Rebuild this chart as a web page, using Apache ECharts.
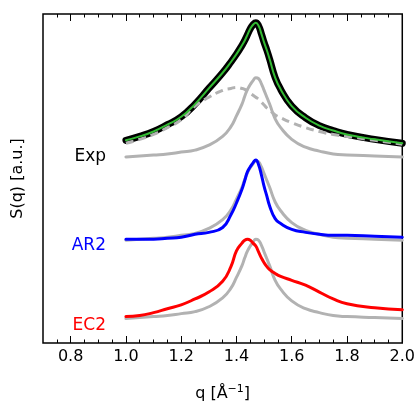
<!DOCTYPE html>
<html>
<head>
<meta charset="utf-8">
<script src="https://cdn.jsdelivr.net/npm/echarts@6/dist/echarts.min.js"></script>
<style>
  html, body { margin: 0; padding: 0; background: #fff; }
  #chart { width: 418px; height: 407px; }
</style>
</head>
<body>
<div id="chart"></div>
<script>
// q grid (1/Å) the curves were read at
var q = [1.00, 1.05, 1.10, 1.15, 1.20, 1.25, 1.30, 1.35, 1.38, 1.40, 1.42, 1.43, 1.44, 1.45,
         1.46, 1.47, 1.48, 1.49, 1.50, 1.51, 1.52, 1.54, 1.56, 1.60, 1.65, 1.70, 1.75, 1.80,
         1.90, 2.00];

// S(q), arbitrary units (curves are offset vertically)
var expTotal = [207, 211, 216, 223, 231, 244, 260, 276, 287, 295, 304, 309, 315, 321,
                325, 327, 324, 316, 307, 299, 290, 271, 259, 242, 230, 222, 217, 213,
                208, 204];
var expBroad = [204, 208, 213, 220, 228, 242, 251, 258, 260, 261, 260, 259, 257, 255,
                253, 251, 249, 246, 243, 240, 238, 233, 230, 225, 220, 216, 213, 211,
                207, 203];
var expPeak  = [190, 191, 192, 193, 195, 197, 202, 211, 221, 232, 244, 252, 259, 264,
                268, 271, 270, 265, 258, 251, 244, 229, 220, 208, 200, 196, 193, 192,
                191, 190];
var ar2Sim   = [106, 106, 106, 107, 108, 111, 113, 118, 131, 143, 157, 166, 175, 180,
                184, 187, 182, 172, 160, 150, 140, 127, 122, 116, 113, 111, 110, 110,
                109, 108];
var ar2Peak  = [105, 106, 107, 108, 110, 112, 117, 126, 136, 147, 159, 167, 174, 179,
                183, 186, 185, 180, 173, 166, 159, 144, 135, 123, 115, 111, 108, 107,
                106, 105];
var ec2Sim   = [27, 28, 31, 35, 39, 45, 52, 63, 78, 94, 102, 105, 106, 105,
                102, 99, 93, 87, 82, 78, 75, 71, 68, 64, 59, 52, 45, 40,
                36, 34];
var ec2Peak  = [25, 26, 27, 28, 30, 32, 37, 46, 56, 67, 79, 87, 94, 99,
                103, 106, 105, 100, 93, 86, 79, 64, 55, 43, 35, 31, 28, 27,
                26, 25];

var majorTicks = [0.8, 1.0, 1.2, 1.4, 1.6, 1.8, 2.0];
var minorTicks = [0.75, 0.85, 0.9, 0.95, 1.05, 1.1, 1.15, 1.25, 1.3, 1.35, 1.45, 1.5, 1.55,
                  1.65, 1.7, 1.75, 1.85, 1.9, 1.95];

var FONT = 'DejaVu Sans';
var GRAY = '#b2b2b2';

function pairs(ys) {
    return q.map(function (x, i) { return [x, ys[i]]; });
}

function xAx(pos, ticks, len, labels) {
    return {
        type: 'value', position: pos, min: 0.7, max: 2.0,
        axisLine: { show: false },
        splitLine: { show: false },
        axisTick: { show: true, inside: true, length: len, customValues: ticks,
                    lineStyle: { color: '#000', width: 1 } },
        axisLabel: labels ? {
            show: true, customValues: ticks, margin: 6,
            fontFamily: FONT, fontSize: 16, color: '#000',
            formatter: function (v) { return v.toFixed(1); }
        } : { show: false }
    };
}

function line(data, color, width, extra) {
    var s = {
        type: 'line', data: pairs(data), smooth: 0.5, symbol: 'none',
        silent: true, animation: false,
        lineStyle: { color: color, width: width, cap: 'round', join: 'round' }
    };
    if (extra) Object.assign(s.lineStyle, extra);
    return s;
}

var chart = echarts.init(document.getElementById('chart'));

var xAxes = [xAx('bottom', majorTicks, 7, true), xAx('bottom', minorTicks, 3.5, false),
             xAx('top', majorTicks, 7, false), xAx('top', minorTicks, 3.5, false)];
xAxes[0].name = 'q [Å{sup|−1}]';
xAxes[0].nameLocation = 'middle';
xAxes[0].nameGap = 41;
xAxes[0].nameTextStyle = {
    fontFamily: FONT, fontSize: 16, color: '#000',
    rich: { sup: { fontFamily: FONT, fontSize: 11, color: '#000', padding: [0, 0, 9, 0] } }
};

chart.setOption({
    animation: false,
    grid: { left: 43, top: 14, right: 15, bottom: 57, show: true,
            borderColor: '#000', borderWidth: 1.5, backgroundColor: 'transparent' },
    xAxis: xAxes,
    yAxis: {
        type: 'value', min: 0, max: 336,
        axisLine: { show: false }, axisTick: { show: false },
        axisLabel: { show: false }, splitLine: { show: false },
        name: 'S(q) [a.u.]', nameLocation: 'middle', nameGap: 17,
        nameTextStyle: { fontFamily: FONT, fontSize: 16, color: '#000' }
    },
    series: [
        line(expPeak, GRAY, 3),
        line(expTotal, '#000', 7),
        line(expBroad, GRAY, 3, { type: [8, 5], cap: 'butt' }),
        line(expTotal, '#33bb33', 2),
        line(ar2Peak, GRAY, 3),
        line(ar2Sim, '#0000ff', 3),
        line(ec2Peak, GRAY, 3),
        line(ec2Sim, '#ff0000', 3)
    ],
    graphic: [
        { type: 'text', right: 312, top: 148,
          style: { text: 'Exp', fill: '#000', font: '17px "DejaVu Sans"' } },
        { type: 'text', right: 312, top: 237,
          style: { text: 'AR2', fill: '#0000ff', font: '17px "DejaVu Sans"' } },
        { type: 'text', right: 312, top: 317,
          style: { text: 'EC2', fill: '#ff0000', font: '17px "DejaVu Sans"' } }
    ]
});
</script>
</body>
</html>
